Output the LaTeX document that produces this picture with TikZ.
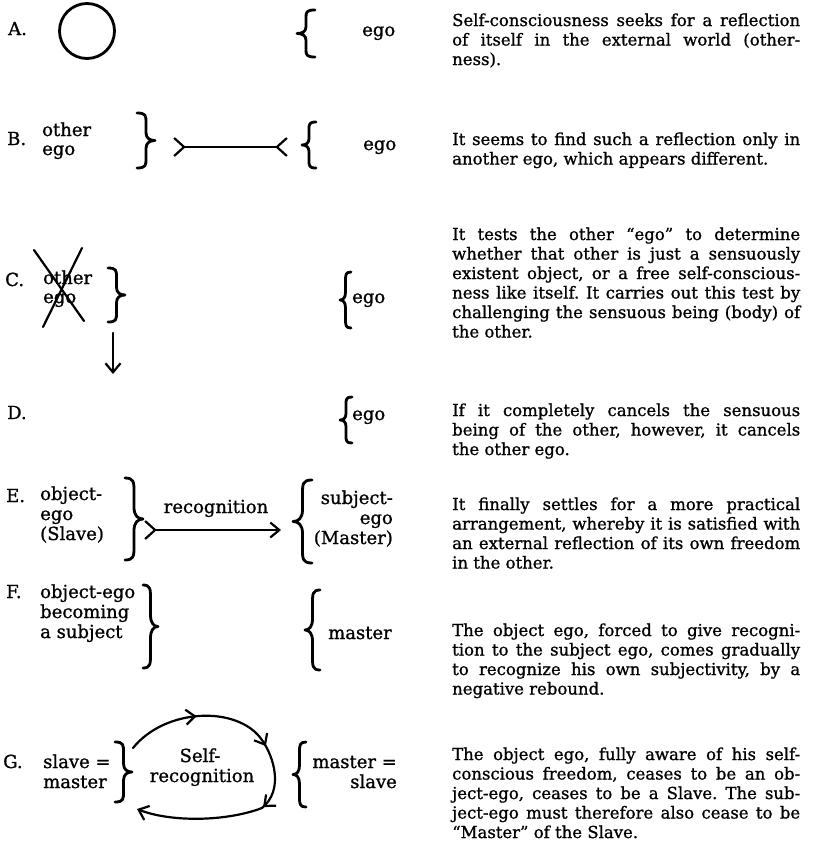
\documentclass[tikz,border=0pt]{standalone}
\usepackage{fontspec}
\setmainfont{DejaVu Serif}[FakeBold=1]
\usetikzlibrary{arrows.meta,decorations.markings}

\newcommand\lblfont{\fontsize{18}{20}\selectfont}
\newcommand\parfont{\fontsize{16.5}{19.5}\selectfont\frenchspacing\tolerance=9999 \hyphenpenalty=10000 }

% curly brace: #1 = x of the point, #2 = x of the two ends, #3 = top y, #4 = bottom y
\newcommand\drawbrace[4]{%
  \pgfmathsetmacro\bxc{0.5*(#1+#2)}%
  \pgfmathsetmacro\bh{#4-#3}%
  \pgfmathsetmacro\bm{0.5*(#3+#4)}%
  \pgfmathsetmacro\bk{\bxc+0.45*(#1-\bxc)}%
  \draw[brc] (#2,#3) .. controls (\bxc,#3) and (\bxc,{#3+0.05*\bh}) .. (\bxc,{#3+0.17*\bh})
    -- (\bxc,{#3+0.36*\bh}) .. controls (\bxc,{#3+0.46*\bh}) and (\bk,\bm) .. (#1,\bm)
    .. controls (\bk,\bm) and (\bxc,{#3+0.54*\bh}) .. (\bxc,{#3+0.64*\bh})
    -- (\bxc,{#3+0.83*\bh}) .. controls (\bxc,{#3+0.95*\bh}) and (\bxc,#4) .. (#2,#4);}

\tikzset{
  tag/.style={font=\lblfont, inner sep=0pt, anchor=base west},
  lbl/.style={font=\lblfont, inner sep=0pt, anchor=base west},
  lblr/.style={font=\lblfont, inner sep=0pt, anchor=base east},
  lblc/.style={font=\lblfont, inner sep=0pt, anchor=base},
  para/.style={font=\parfont, inner sep=0pt, anchor=base west, text width=348pt, align=justify},
  brc/.style={line width=2.8pt, line cap=round, line join=round},
  lnk/.style={line width=2.2pt, line cap=round, line join=round},
  hbarb/.tip={Straight Barb[length=9pt,width=15pt]},
  fork/.tip={Straight Barb[reversed,length=10pt,width=18pt]},
}

\begin{document}
\begin{tikzpicture}[x=1pt,y=-1pt]
\path[fill=white] (0,0) rectangle (813,852);

% ---------- A ----------
\node[tag] (tA) at (8,35) {A.};
\node[draw, circle, line width=2.8pt, minimum size=55pt, inner sep=0pt] (ring) at (87,31) {};
\drawbrace{297}{315}{10}{57}
\node[lbl] (egoA) at (362,36) {ego};
\node[para] (pA) at (452,26) {Self-consciousness seeks for a reflection\linebreak of itself in the external world (other-\linebreak ness).};

% ---------- B ----------
\node[tag] (tB) at (7,145) {B.};
\node[lbl] (otherB) at (42,136) {other};
\node[lbl] (egoBl) at (42,155) {ego};
\drawbrace{155}{137}{113}{168}
\coordinate (bA) at (173,147);
\coordinate (bB) at (288,147);
\draw[lnk, fork-fork] (bA) -- (bB);
\drawbrace{302}{316}{122}{168}
\node[lbl] (egoB) at (363,150) {ego};
\node[para] (pB) at (452,145) {It seems to find such a reflection only in\linebreak another ego, which appears different.};

% ---------- C ----------
\node[tag] (tC) at (5,286) {C.};
\node[lbl] (otherC) at (43,284) {other};
\node[lbl] (egoCl) at (43,303) {ego};
\coordinate (x1) at (34,250);
\coordinate (x2) at (84,321);
\coordinate (x3) at (82,248);
\coordinate (x4) at (43,327);
\draw[lnk] (x1) -- (x2);
\draw[lnk] (x3) -- (x4);
\drawbrace{125}{108}{268}{322}
\coordinate (cTop) at (113,333);
\coordinate (cBot) at (113,374);
\draw[lnk, -hbarb] (cTop) -- (cBot);
\drawbrace{340}{351}{272}{328}
\node[lbl] (egoC) at (352,303) {ego};
\node[para] (pC) at (452,240) {It tests the other ``ego'' to determine\linebreak whether that other is just a sensuously\linebreak existent object, or a free self-conscious-\linebreak ness like itself. It carries out this test by\linebreak challenging the sensuous being (body) of\linebreak the other.};

% ---------- D ----------
\node[tag] (tD) at (7,419) {D.};
\drawbrace{340}{352}{397}{443}
\node[lbl] (egoD) at (352,420) {ego};
\node[para] (pD) at (452,416) {If it completely cancels the sensuous\linebreak being of the other, however, it cancels\linebreak the other ego.};

% ---------- E ----------
\node[tag] (tE) at (6,502) {E.};
\node[lbl] (objE) at (40,500) {object-};
\node[lbl] (egoEl) at (40,520) {ego};
\node[lbl] (slaveE) at (40,540) {(Slave)};
\drawbrace{143}{125}{478}{560}
\node[lblc] (recE) at (216,513) {recognition};
\coordinate (eA) at (144,530);
\coordinate (eB) at (281,530);
\draw[lnk, fork-hbarb] (eA) -- (eB);
\drawbrace{293}{312}{480}{563}
\node[lblr] (subjE) at (393,504) {subject-};
\node[lblr] (egoE) at (393,524) {ego};
\node[lblr] (masterE) at (393,544) {(Master)};
\node[para] (pE) at (452,510) {It finally settles for a more practical\linebreak arrangement, whereby it is satisfied with\linebreak an external reflection of its own freedom\linebreak in the other.};

% ---------- F ----------
\node[tag] (tF) at (6,598) {F.};
\node[lbl] (objF) at (40,598) {object-ego};
\node[lbl] (becF) at (40,618) {becoming};
\node[lbl] (subjF) at (40,638) {a subject};
\drawbrace{158}{143}{585}{668}
\drawbrace{305}{320}{590}{670}
\node[lbl] (masterF) at (328,639) {master};
\node[para] (pF) at (452,636) {The object ego, forced to give recogni-\linebreak tion to the subject ego, comes gradually\linebreak to recognize his own subjectivity, by a\linebreak negative rebound.};

% ---------- G ----------
\node[tag] (tG) at (3,768) {G.};
\node[lbl] (slaveG) at (43,768) {slave =};
\node[lbl] (masterGl) at (43,788) {master};
\drawbrace{132}{115}{742}{802}
\node[lblc] (selfG) at (200,762) {Self-};
\node[lblc] (recG) at (202,782) {recognition};
\coordinate (g1) at (133,748);
\coordinate (g2) at (262,740);
\coordinate (g3) at (262,808);
\coordinate (g4) at (137,809);
\draw[lnk, -hbarb, postaction={decorate}, decoration={markings,
    mark=at position 0.21 with {\arrow{hbarb}},
    mark=at position 0.44 with {\arrow{hbarb}},
    mark=at position 0.63 with {\arrow{hbarb}}}]
  (g1) .. controls (165,708) and (238,705) .. (g2)
       .. controls (274,757) and (284,790) .. (g3)
       .. controls (225,822) and (170,822) .. (g4);
\drawbrace{293}{306}{742}{807}
\node[lblr] (masterG) at (397,768) {master =};
\node[lblr] (slaveGr) at (397,788) {slave};
\node[para] (pG) at (452,760) {The object ego, fully aware of his self-\linebreak conscious freedom, ceases to be an ob-\linebreak ject-ego, ceases to be a Slave. The sub-\linebreak ject-ego must therefore also cease to be\linebreak ``Master'' of the Slave.};
\end{tikzpicture}
\end{document}
